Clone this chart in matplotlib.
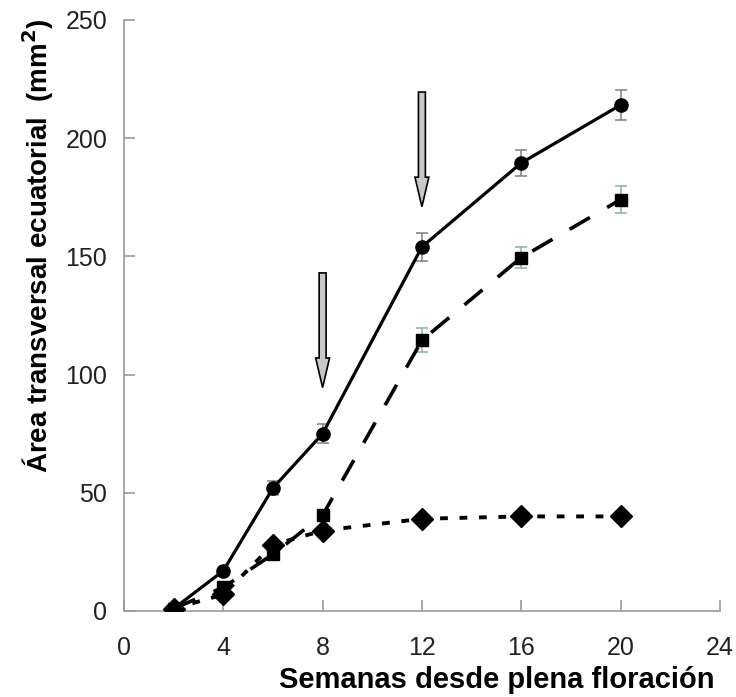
"""Growth of equatorial cross-section area over weeks after full bloom."""

import matplotlib
matplotlib.use("Agg")
import matplotlib.pyplot as plt

plt.rcParams["font.family"] = ["Liberation Sans", "DejaVu Sans"]

weeks = [2, 4, 6, 8, 12, 16, 20]

circle_area = [1, 17, 52, 75, 154, 189.5, 214]
circle_err = [0, 0, 3, 4, 6, 5.3, 6.5]

square_area = [1, 10, 24, 40.5, 114.5, 149.5, 174]
square_err = [0, 0, 0, 0, 5, 4.4, 5.7]

diamond_area = [1, 7, 28, 34, 39, 40, 40]

arrow_x = [8, 12]
arrow_top = [143, 219.5]
arrow_tip = [94.5, 171]

x_ticks = [0, 4, 8, 12, 16, 20, 24]
y_ticks = [0, 50, 100, 150, 200, 250]

AXIS_GRAY = "#9a9a9a"

fig = plt.figure(figsize=(7.36, 6.97), dpi=100)
ax = fig.add_axes([0.1685, 0.1234, 0.8095, 0.848])

ax.errorbar(weeks, circle_area, yerr=circle_err, color="black", lw=2.3,
            marker="o", ms=9.5, ecolor="#808080", elinewidth=1.1, capsize=4,
            capthick=1.1, zorder=3)
ax.errorbar(weeks, square_area, yerr=square_err, color="black", lw=2.6,
            ls=(0, (6.5, 5.5)), marker="s", ms=9, ecolor="#7fb894",
            elinewidth=1.1, capsize=4, capthick=1.1, zorder=4)
ax.plot(weeks, diamond_area, color="black", lw=2.8, ls=(0, (2, 3)),
        marker="D", ms=11.5, zorder=5)

# Grey down arrows marking the stage changes
for x, top, tip in zip(arrow_x, arrow_top, arrow_tip):
    ax.arrow(x, top, 0, tip - top, width=0.28, head_width=0.56,
             head_length=12.5, length_includes_head=True,
             facecolor="#c8c8c8", edgecolor="black", lw=1.2, zorder=6)

ax.set_xlim(0, 24)
ax.set_ylim(0, 250)
ax.set_xticks(x_ticks)
ax.set_yticks(y_ticks)

for side in ("top", "right"):
    ax.spines[side].set_visible(False)
for side in ("left", "bottom"):
    ax.spines[side].set_color(AXIS_GRAY)
    ax.spines[side].set_linewidth(1.2)

ax.tick_params(direction="in", length=8, width=1.2, color=AXIS_GRAY,
               labelsize=18, labelcolor="#222222")
ax.tick_params(axis="x", pad=18)
ax.tick_params(axis="y", pad=12)

fig.text(0.675, 0.024, "Semanas desde plena floración", fontsize=21,
         fontweight="bold", ha="center", va="center")
fig.text(0.052, 0.648, "Área transversal ecuatorial  (mm$^\\mathbf{2}$)",
         fontsize=20, fontweight="bold", rotation=90, ha="center",
         va="center")

fig.savefig("out.png", dpi=100)
